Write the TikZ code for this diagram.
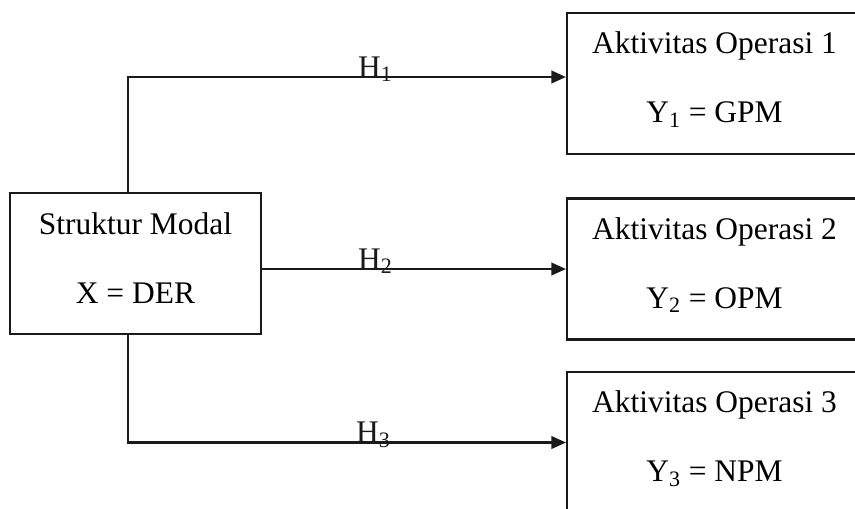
\documentclass[tikz,border=0pt]{standalone}
\usepackage{fontspec}
\setmainfont{Liberation Serif}
\usetikzlibrary{arrows.meta,positioning,calc}
\definecolor{ink}{HTML}{1A1A1A}

\begin{document}
\begin{tikzpicture}[>={Triangle[length=2.9mm,width=2.5mm]},line width=1.2pt,
  varbox/.style={draw=ink,rectangle,minimum width=#1,minimum height=2.82cm,inner sep=0pt,align=center,font=\fontsize{17.9}{39.3}\selectfont},
  hlab/.style={anchor=base west,inner sep=0pt,font=\fontsize{17.9}{20}\selectfont,text=ink}]
  \useasboundingbox (0,0) rectangle (17.1,-10.16);
  \clip (0,0) rectangle (17.1,-10.16);
  % independent variable
  \node[varbox=5.02cm,text depth=0.22cm] (modal) at (2.71,-5.27) {Struktur Modal\\X = DER};
  % dependent variables
  \foreach \lab/\y [count=\i] in {GPM/-1.67,OPM/-5.38,NPM/-8.85}{
    \node[varbox=5.9cm,text depth=0.25cm] (aktif\i) at (14.29,\y) {Aktivitas Operasi \i\\Y\textsubscript{\i} = \lab};}
  % hypotheses
  \coordinate (top) at (2.56,-1.54);
  \draw[->,ink] (modal.north -| top) -- (top) -- (top -| aktif1.west);
  \draw[->,ink] (modal.east |- aktif2.west) -- (aktif2.west);
  \draw[->,ink] (modal.south -| top) |- (aktif3.west);
  \node[hlab] (h1) at (7.14,-1.54) {H\textsubscript{1}};
  \node[hlab] (h2) at (7.14,-5.38) {H\textsubscript{2}};
  \node[hlab] (h3) at (7.10,-8.85) {H\textsubscript{3}};
\end{tikzpicture}
\end{document}
